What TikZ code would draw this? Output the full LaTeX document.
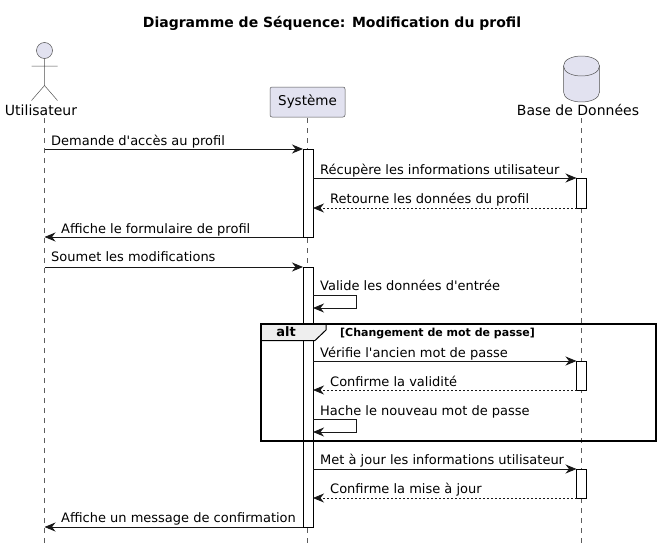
\documentclass[tikz,border=0pt]{standalone}
\usepackage{fontspec}
\setmainfont[Ligatures=TeXOff]{DejaVu Sans}
\usetikzlibrary{arrows.meta,calc}
\definecolor{pfill}{HTML}{E2E2F0}
\definecolor{pline}{HTML}{181818}
\definecolor{tabfill}{HTML}{EEEEEE}
\tikzset{
  x=1pt,y=-1pt,
  msgtext/.style={anchor=base west,inner sep=0pt,font=\fontsize{13}{15}\selectfont,text=black},
  headtext/.style={anchor=base,inner sep=0pt,font=\fontsize{14}{16}\selectfont,text=black},
  lifeline/.style={draw=pline!70,line width=0.5pt,dash pattern=on 5pt off 5pt},
  tip/.style={-{Stealth[length=11pt,width=9pt,inset=3.5pt,color=pline]}},
  msg/.style={draw=pline,line width=0.9pt,tip},
  reply/.style={draw=pline,line width=0.8pt,dash pattern=on 2pt off 2pt,tip},
  bar/.style={draw=black,fill=white,line width=0.9pt,minimum width=10pt,inner sep=0pt,outer sep=0pt},
  actorline/.style={draw=pline!75,line width=0.5pt},
  partbox/.style={draw=pline!75,fill=pfill,line width=0.5pt,rounded corners=2pt,inner sep=0pt,outer sep=0pt,minimum width=75pt,minimum height=30pt,font=\fontsize{13.5}{15}\selectfont},
}
\newcommand{\barnode}[4]{\node[bar,minimum height=#4-#3] (#1) at (#2,{(#3+#4)/2}) {};}
\begin{document}
\begin{tikzpicture}
\useasboundingbox (0,0) rectangle (660,551);
\fill[white] (0,0) rectangle (660,551);
\node[anchor=base,inner sep=0pt,font=\bfseries\fontsize{14}{16}\selectfont] (title) at (332,28) {Diagramme de Séquence: Modification du profil};

% life lines
\coordinate (uTop) at (44.5,118); \coordinate (uEnd) at (44.5,545);
\coordinate (sTop) at (307.5,118); \coordinate (sEnd) at (307.5,545);
\coordinate (dTop) at (581.5,118); \coordinate (dEnd) at (581.5,545);
\draw[lifeline] (uTop) -- (uEnd);
\draw[lifeline] (sTop) -- (sEnd);
\draw[lifeline] (dTop) -- (dEnd);

% actor
\filldraw[actorline,fill=pfill] (44.5,50.5) circle (8);
\draw[actorline] (44.5,58.5) -- (44.5,85.5) (31.5,66) -- (57.5,66) (31.5,100.5) -- (44.5,85.5) -- (57.5,100.5);
\node[headtext] (userlbl) at (41,115) {Utilisateur};

% participant
\node[partbox] (sys) at (307.5,102) {Système};

% database
\filldraw[actorline,fill=pfill] (563.5,66) .. controls (563.5,52.7) and (599.5,52.7) .. (599.5,66) -- (599.5,92) .. controls (599.5,105.3) and (563.5,105.3) .. (563.5,92) -- cycle;
\draw[actorline] (563.5,66) .. controls (563.5,79.3) and (599.5,79.3) .. (599.5,66);
\node[headtext] (dblbl) at (578,115) {Base de Données};

% activation bars
\barnode{s1}{308}{149}{237}
\barnode{s2}{308}{267}{527}
\barnode{d1}{581.5}{178}{208}
\barnode{d2}{581.5}{361}{390}
\barnode{d3}{581.5}{469}{498}

% messages
\draw[msg] (uTop |- s1.north) -- (s1.north west);
\node[msgtext] (t1) at (51,145) {Demande d'accès au profil};
\draw[msg] (s1.east |- d1.north) -- (d1.north west);
\node[msgtext] (t2) at (320,174) {Récupère les informations utilisateur};
\draw[reply] (d1.south west) -- (s1.east |- d1.south);
\node[msgtext] (t3) at (330,203.5) {Retourne les données du profil};
\draw[msg] (s1.south west) -- (uTop |- s1.south);
\node[msgtext] (t4) at (61,233) {Affiche le formulaire de profil};
\draw[msg] (uTop |- s2.north) -- (s2.north west);
\node[msgtext] (t5) at (51,261) {Soumet les modifications};

\coordinate (selfA) at (356,295);
\coordinate (selfB) at (356,308);
\draw[msg] (s2.east |- selfA) -- (selfA) -- (selfB) -- (s2.east |- selfB);
\node[msgtext] (t6) at (320,290.5) {Valide les données d'entrée};

\draw[msg] (s2.east |- d2.north) -- (d2.north west);
\node[msgtext] (t7) at (320,357) {Vérifie l'ancien mot de passe};
\draw[reply] (d2.south west) -- (s2.east |- d2.south);
\node[msgtext] (t8) at (330,386) {Confirme la validité};

\coordinate (selfC) at (356,419);
\coordinate (selfD) at (356,432);
\draw[msg] (s2.east |- selfC) -- (selfC) -- (selfD) -- (s2.east |- selfD);
\node[msgtext] (t9) at (320,415) {Hache le nouveau mot de passe};

\draw[msg] (s2.east |- d3.north) -- (d3.north west);
\node[msgtext] (t10) at (320,464) {Met à jour les informations utilisateur};
\draw[reply] (d3.south west) -- (s2.east |- d3.south);
\node[msgtext] (t11) at (330,493) {Confirme la mise à jour};
\draw[msg] (s2.south west) -- (uTop |- s2.south);
\node[msgtext] (t12) at (61,522) {Affiche un message de confirmation};

% alt frame
\filldraw[draw=black,fill=tabfill,line width=1pt] (260.5,323.5) -- (326,323.5) -- (326,330) -- (315,340.5) -- (260.5,340.5) -- cycle;
\draw[black,line width=2pt] (260.5,323.5) rectangle (656,440.5);
\node[anchor=base,inner sep=0pt,font=\bfseries\fontsize{13}{15}\selectfont] (altlbl) at (286,336) {alt};
\node[anchor=base west,inner sep=0pt,font=\bfseries\fontsize{11}{13}\selectfont] (guard) at (340,336) {[Changement de mot de passe]};
\end{tikzpicture}
\end{document}
